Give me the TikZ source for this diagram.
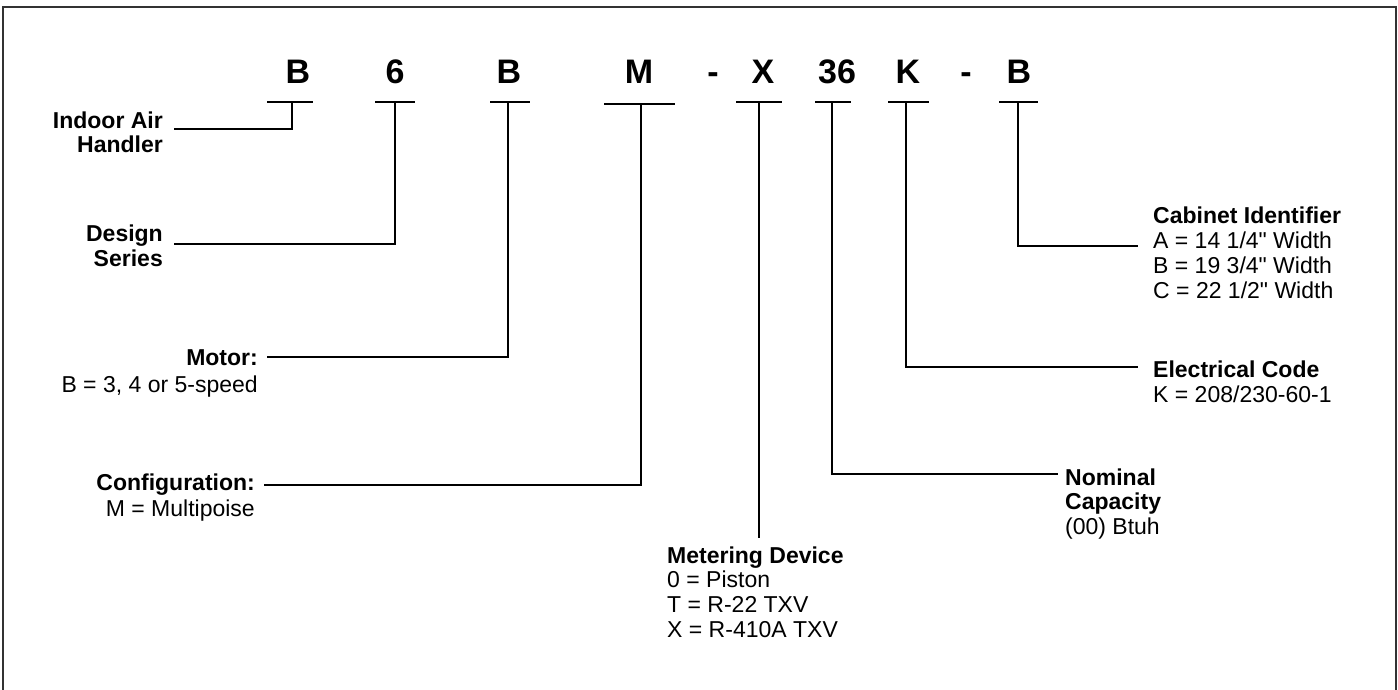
\documentclass[tikz,border=0pt]{standalone}
\usepackage{fontspec}
\setmainfont[Ligatures=TeXOff]{Liberation Sans}
\begin{document}
\begin{tikzpicture}[x=1pt,y=-1pt,
  code/.style={font=\fontsize{34}{40}\selectfont\bfseries, inner sep=0pt, anchor=base},
  ttl/.style={font=\fontsize{23}{25}\selectfont\bfseries, inner sep=0pt},
  txt/.style={font=\fontsize{23}{25}\selectfont, inner sep=0pt},
  ln/.style={line width=1.3pt, black},
  frame/.style={line width=2pt, black!80}]
\useasboundingbox (0,0) rectangle (1398,690);
% frame
\draw[frame] (3,690) -- (3,7) -- (1396,7) -- (1396,690);
% code letters
\node[code] (cB1) at (298,84) {B};
\node[code] (c6)  at (395,84) {6};
\node[code] (cB2) at (509,84) {B};
\node[code] (cM)  at (639,84) {M};
\node[code] (d1)  at (713,84) {-};
\node[code] (cX)  at (763,84) {X};
\node[code] (c36) at (837,84) {36};
\node[code] (cK)  at (908,84) {K};
\node[code] (d2)  at (966,84) {-};
\node[code] (cB3) at (1019,84) {B};
% underlines
\draw[ln] (267,102) -- (313,102);
\draw[ln] (375,102) -- (415,102);
\draw[ln] (490,102) -- (530,102);
\draw[ln] (604,104) -- (675,104);
\draw[ln] (736,102) -- (782,102);
\draw[ln] (815,102) -- (851,102);
\draw[ln] (888,102) -- (929,102);
\draw[ln] (999,102) -- (1038,102);
% connector start points
\coordinate (tB1) at (292,102);
\coordinate (t6)  at (395,102);
\coordinate (tB2) at (508,102);
\coordinate (tM)  at (641,104);
\coordinate (tX)  at (759,102);
\coordinate (t36) at (832,102);
\coordinate (tK)  at (906,102);
\coordinate (tB3) at (1018,102);
% connector free ends
\coordinate (eB1) at (174,129);
\coordinate (e6)  at (174,244);
\coordinate (eB2) at (267,357);
\coordinate (eM)  at (264,485);
\coordinate (eX)  at (759,538);
\coordinate (e36) at (1058,474);
\coordinate (eK)  at (1138,367);
\coordinate (eB3) at (1138,246);
% left labels
\node[ttl, anchor=base east] (ia1) at (163,129) {Indoor Air};
\node[ttl, anchor=base east] (ia2) at (163,153) {Handler};
\node[ttl, anchor=base east] (ds1) at (163,241) {Design};
\node[ttl, anchor=base east] (ds2) at (163,266) {Series};
\node[ttl, anchor=base east] (mo1) at (258,365) {Motor:};
\node[txt, anchor=base east] (mo2) at (258,392) {B = 3, 4 or 5-speed};
\node[ttl, anchor=base east] (cf1) at (255,490) {Configuration:};
\node[txt, anchor=base east] (cf2) at (255,516) {M = Multipoise};
% bottom label
\node[ttl, anchor=base west] (md1) at (667,563) {Metering Device};
\node[txt, anchor=base west] (md2) at (667,587) {0 = Piston};
\node[txt, anchor=base west] (md3) at (667,612) {T = R-22 TXV};
\node[txt, anchor=base west] (md4) at (667,637) {X = R-410A TXV};
% right labels
\node[ttl, anchor=base west] (nc1) at (1065,485) {Nominal};
\node[ttl, anchor=base west] (nc2) at (1065,509) {Capacity};
\node[txt, anchor=base west] (nc3) at (1065,534) {(00) Btuh};
\node[ttl, anchor=base west] (ec1) at (1153,377) {Electrical Code};
\node[txt, anchor=base west] (ec2) at (1153,402) {K = 208/230-60-1};
\node[ttl, anchor=base west] (ci1) at (1153,223) {Cabinet Identifier};
\node[txt, anchor=base west] (ci2) at (1153,248) {A = 14 1/4" Width};
\node[txt, anchor=base west] (ci3) at (1153,273) {B = 19 3/4" Width};
\node[txt, anchor=base west] (ci4) at (1153,298) {C = 22 1/2" Width};
% connectors
\draw[ln] (tB1) |- (eB1);
\draw[ln] (t6)  |- (e6);
\draw[ln] (tB2) |- (eB2);
\draw[ln] (tM)  |- (eM);
\draw[ln] (tX)  -- (eX);
\draw[ln] (t36) |- (e36);
\draw[ln] (tK)  |- (eK);
\draw[ln] (tB3) |- (eB3);
\end{tikzpicture}
\end{document}
